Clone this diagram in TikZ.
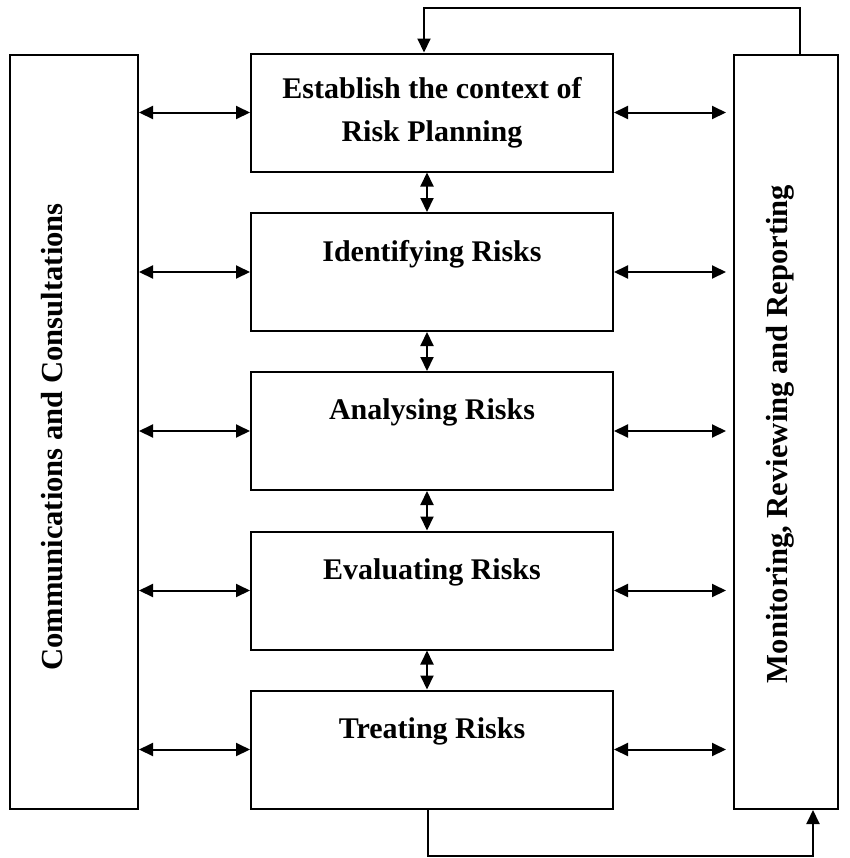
\documentclass[tikz,border=0pt]{standalone}
\usepackage{fontspec}
\setmainfont{Liberation Serif}
\usetikzlibrary{arrows.meta}

\begin{document}
\begin{tikzpicture}[x=0.5pt, y=-0.5pt,
    stage/.style={draw, line width=1pt, minimum width=181pt, minimum height=59pt,
        inner sep=0pt, align=center, font=\bfseries\fontsize{15}{21.5}\selectfont},
    sidebox/.style={draw, line width=1pt, minimum height=377pt, inner sep=0pt},
    sidetext/.style={rotate=90, inner sep=0pt, font=\bfseries\fontsize{15.3}{18}\selectfont},
    link/.style={line width=1pt, {Triangle[length=7pt,width=6.5pt]}-{Triangle[length=7pt,width=6.5pt]}},
    feedback/.style={line width=1pt, -{Triangle[length=7pt,width=6.5pt]}}]
    \useasboundingbox (0,0) rectangle (850,858);

    % the five steps in the middle
    \node[stage] (ctx)   at (432,112.5) {Establish the context of\\Risk Planning};
    \node[stage] (ident) at (432,272)   {Identifying Risks\\\mbox{}};
    \node[stage] (anal)  at (432,431)   {Analysing Risks\\\mbox{}};
    \node[stage] (eval)  at (432,590.5) {Evaluating Risks\\\mbox{}};
    \node[stage] (treat) at (432,749.5) {Treating Risks\\\mbox{}};

    % the two side columns
    \node[sidebox, minimum width=64pt] (comm) at (74,432) {};
    \node[sidebox, minimum width=52pt] (mon)  at (786,432) {};
    \node[sidetext] (commtext) at (52,437)  {Communications and Consultations};
    \node[sidetext] (montext)  at (780,434) {Monitoring, Reviewing and Reporting};

    % arrows to both sides
    \foreach \s in {ctx,ident,anal,eval,treat} {
        \draw[link] (comm.east |- \s.west) -- (\s.west);
        \draw[link, shorten >=3.5pt] (\s.east) -- (mon.west |- \s.east);
    }

    % arrows between the steps
    \draw[link] ([xshift=-2.5pt]ctx.south)   -- ([xshift=-2.5pt]ident.north);
    \draw[link] ([xshift=-2.5pt]ident.south) -- ([xshift=-2.5pt]anal.north);
    \draw[link] ([xshift=-2.5pt]anal.south)  -- ([xshift=-2.5pt]eval.north);
    \draw[link] ([xshift=-2.5pt]eval.south)  -- ([xshift=-2.5pt]treat.north);

    % feedback round the top and the bottom
    \coordinate (topR) at (800,8);
    \coordinate (topL) at (424,8);
    \coordinate (botL) at (428,856);
    \coordinate (botR) at (813,856);
    \draw[feedback] (mon.north -| topR) -- (topR) -- (topL) -- (topL |- ctx.north);
    \draw[feedback] (treat.south -| botL) -- (botL) -- (botR) -- (botR |- mon.south);
\end{tikzpicture}
\end{document}
